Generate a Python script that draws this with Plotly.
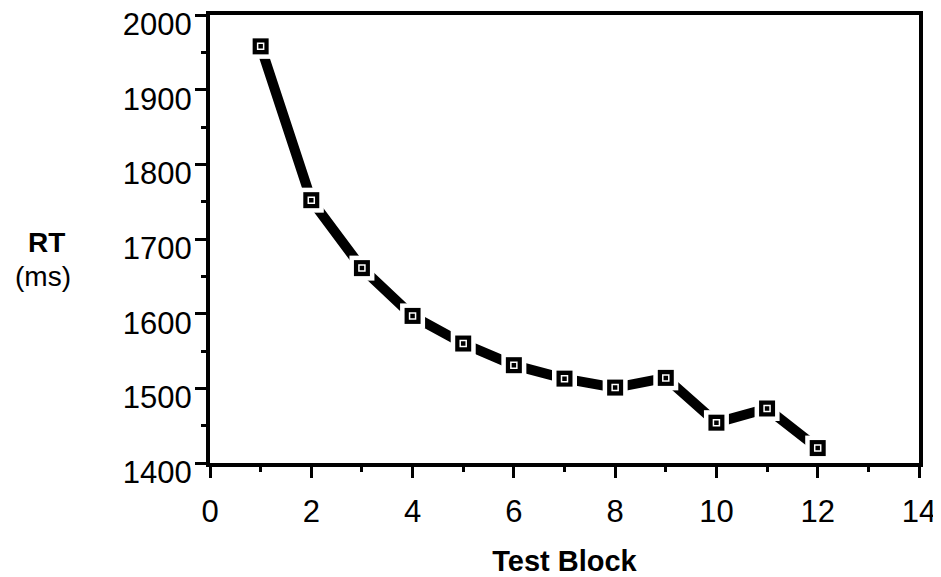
import plotly.graph_objects as go

blocks = [1, 2, 3, 4, 5, 6, 7, 8, 9, 10, 11, 12]
rt_ms = [1958, 1752, 1661, 1597, 1560, 1531, 1513, 1501, 1514, 1454, 1473, 1420]

x_ticks = [0, 2, 4, 6, 8, 10, 12, 14]
y_ticks = [1400, 1500, 1600, 1700, 1800, 1900, 2000]

fig = go.Figure()
fig.add_trace(go.Scatter(x=blocks, y=rt_ms, mode="lines",
                         line=dict(color="black", width=10), hoverinfo="skip"))
fig.add_trace(go.Scatter(x=blocks, y=rt_ms, mode="markers",
                         marker=dict(symbol="square", size=25, color="white", line=dict(width=0))))
fig.add_trace(go.Scatter(x=blocks, y=rt_ms, mode="markers",
                         marker=dict(symbol="square", size=16, color="black", line=dict(width=0))))
fig.add_trace(go.Scatter(x=blocks, y=rt_ms, mode="markers",
                         marker=dict(symbol="square-open", size=6, color="white", line=dict(width=1.5, color="white"))))

font_fam = "Liberation Sans, Arial, sans-serif"
# page has an 8px body margin; figure sized/margined so the plot area lands at the reference position
fig.update_layout(
    width=933, height=569,
    margin=dict(l=202, r=22, t=7, b=114, autoexpand=False),
    paper_bgcolor="white", plot_bgcolor="white",
    showlegend=False,
    font=dict(family=font_fam, color="black", size=30),
)
fig.update_xaxes(
    range=[0, 14], tickvals=x_ticks, ticktext=[str(v) for v in x_ticks],
    showgrid=False, zeroline=False, automargin=False, ticklabeloverflow="allow",
    showline=True, linewidth=4, linecolor="black", mirror=True,
    ticks="outside", ticklen=11, tickwidth=3, tickcolor="black",
    minor=dict(dtick=1, ticks="outside", ticklen=5, tickwidth=3, tickcolor="black"),
    tickfont=dict(size=31, family=font_fam), ticklabelstandoff=7,
    title=dict(text="<b>Test Block</b>", font=dict(size=29, family=font_fam), standoff=26),
)
fig.update_yaxes(
    range=[1400, 2000], tickvals=y_ticks, ticktext=[str(v) for v in y_ticks],
    showgrid=False, zeroline=False, automargin=False, ticklabeloverflow="allow",
    showline=True, linewidth=4, linecolor="black", mirror=True,
    ticks="outside", ticklen=11, tickwidth=3, tickcolor="black",
    minor=dict(dtick=50, ticks="outside", ticklen=5, tickwidth=3, tickcolor="black"),
    tickfont=dict(size=31, family=font_fam), ticklabelshift=9, ticklabelstandoff=-3,
)
fig.add_annotation(text="<b>RT</b>", xref="paper", yref="paper",
                   x=(46 - 210) / 709, y=(463 - 242) / 448, xanchor="center", yanchor="middle",
                   showarrow=False, font=dict(size=28, family=font_fam))
fig.add_annotation(text="(ms)", xref="paper", yref="paper",
                   x=(43 - 210) / 709, y=(463 - 276) / 448, xanchor="center", yanchor="middle",
                   showarrow=False, font=dict(size=28, family=font_fam))

fig.write_html("out.html")
